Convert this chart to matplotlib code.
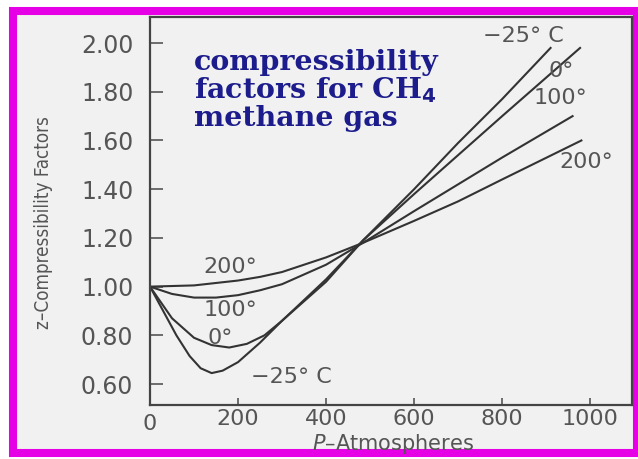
import matplotlib
matplotlib.use("Agg")
import matplotlib.pyplot as plt
from matplotlib import font_manager
from matplotlib.patches import Rectangle

# pressures (atm) and z values
p_m25 = [0, 30, 60, 90, 115, 140, 165, 200, 250, 300, 400, 484, 600, 700, 800, 910]
z_m25 = [1.00, 0.90, 0.80, 0.715, 0.665, 0.645, 0.655, 0.69, 0.77, 0.86, 1.03, 1.19, 1.40, 1.59, 1.77, 1.98]

p_0 = [0, 50, 100, 140, 180, 220, 260, 300, 400, 484, 600, 700, 800, 977]
z_0 = [1.00, 0.87, 0.79, 0.76, 0.75, 0.765, 0.80, 0.86, 1.02, 1.19, 1.38, 1.54, 1.70, 1.98]

p_100 = [0, 50, 100, 150, 200, 250, 300, 400, 484, 600, 700, 800, 960]
z_100 = [1.00, 0.97, 0.955, 0.955, 0.965, 0.985, 1.01, 1.09, 1.18, 1.31, 1.42, 1.53, 1.70]

p_200 = [0, 100, 200, 250, 300, 400, 484, 600, 700, 800, 980]
z_200 = [1.00, 1.005, 1.025, 1.04, 1.06, 1.12, 1.18, 1.27, 1.35, 1.44, 1.60]

x_ticks = [200, 400, 600, 800, 1000]
x_ticklabels = ["200", "400", "600", "800", "1000"]
y_ticks = [0.60, 0.80, 1.00, 1.20, 1.40, 1.60, 1.80, 2.00]
y_ticklabels = ["0.60", "0.80", "1.00", "1.20", "1.40", "1.60", "1.80", "2.00"]

# curve labels: text, P, z
upper_labels = [("\u221225\u00b0 C", 848, 2.03), ("0\u00b0", 935, 1.885),
                ("100\u00b0", 932, 1.775), ("200\u00b0", 990, 1.51)]
lower_labels = [("200\u00b0", 182, 1.08), ("100\u00b0", 182, 0.905),
                ("0\u00b0", 160, 0.79), ("\u221225\u00b0 C", 322, 0.628)]

line_col = "#333333"
text_col = "#555555"

# a condensed face for the y label, if one is installed
label_font = font_manager.FontProperties(family="DejaVu Sans", size=12)
for fam, stretch, size in [("Liberation Sans Narrow", "normal", 14),
                           ("DejaVu Sans", "condensed", 13.5),
                           ("Roboto Condensed", "normal", 14)]:
    fp = font_manager.FontProperties(family=fam, stretch=stretch, size=size)
    try:
        path = font_manager.findfont(fp, fallback_to_default=False)
    except ValueError:
        continue
    if "ondensed" in path or "Narrow" in path:
        label_font = fp
        break

fig = plt.figure(figsize=(6.38, 4.59), dpi=100)
fig.patch.set_facecolor("white")

# magenta frame and speckled-grey paper
frame = Rectangle((13 / 638, 6 / 459), 624 / 638, 442 / 459,
                  transform=fig.transFigure, facecolor="#f1f1f1",
                  edgecolor="#e600e6", linewidth=5.8, zorder=-10)
fig.patches.append(frame)

ax = fig.add_axes([150 / 638, 54 / 459, 482 / 638, 388 / 459])
ax.set_facecolor("#f1f1f1")

ax.plot(p_m25, z_m25, color=line_col, lw=1.5)
ax.plot(p_0, z_0, color=line_col, lw=1.5)
ax.plot(p_100, z_100, color=line_col, lw=1.5)
ax.plot(p_200, z_200, color=line_col, lw=1.5)

ax.set_xlim(0, 1095)
ax.set_ylim(0.514, 2.107)

ax.set_xticks(x_ticks)
ax.set_xticklabels(x_ticklabels)
ax.set_yticks(y_ticks)
ax.set_yticklabels(y_ticklabels)
ax.tick_params(axis="y", direction="in", length=9, width=1.2, color=text_col,
               labelsize=17, labelcolor=text_col, pad=12)
ax.tick_params(axis="x", direction="in", length=5, width=1.2, color=text_col,
               labelsize=16, labelcolor=text_col, pad=3)
# the "0" under the corner
ax.text(0, -0.022, "0", transform=ax.get_xaxis_transform(), ha="center", va="top",
        fontsize=16, color=text_col)

for s in ax.spines.values():
    s.set_color("#444444")
    s.set_linewidth(1.6)

ax.set_xlabel("$P$\u2013Atmospheres", fontsize=15, color=text_col, va="center")
ax.xaxis.set_label_coords(0.505, -0.1)
ax.set_ylabel("z\u2013Compressibility Factors", color=text_col, fontproperties=label_font)
ax.yaxis.set_label_coords(-0.201, 0.47)

for txt, px, pz in upper_labels + lower_labels:
    ax.text(px, pz, txt, ha="center", va="center", fontsize=16, color=text_col)

ax.text(100, 1.975, "compressibility\nfactors for CH$_\\mathbf{4}$\nmethane gas",
        ha="left", va="top", fontsize=20.5, fontweight="bold", family="DejaVu Serif",
        color="#1c1c8c", linespacing=0.98)

fig.savefig("out.png", dpi=100, facecolor=fig.get_facecolor())
